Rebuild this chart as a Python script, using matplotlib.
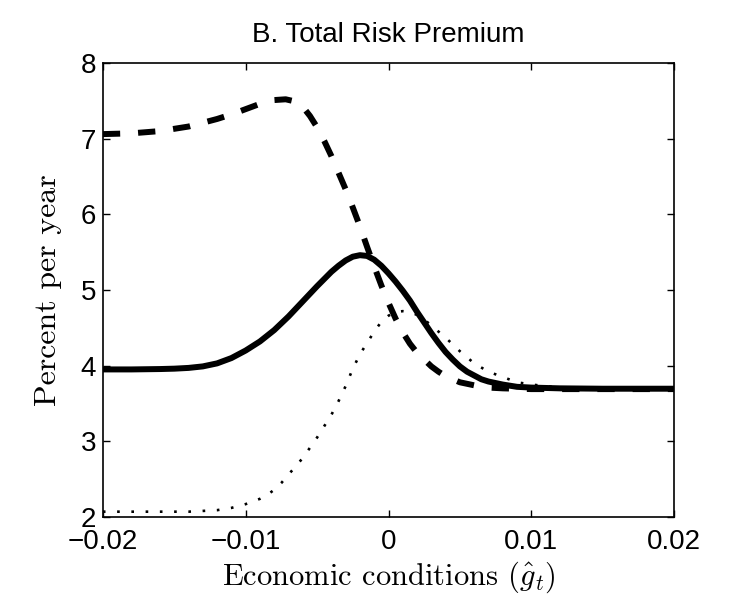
import matplotlib
matplotlib.use("Agg")
import matplotlib.pyplot as plt

# values
solid_x = [-0.020, -0.018, -0.016, -0.015, -0.014, -0.013, -0.012, -0.011, -0.010,
           -0.009, -0.008, -0.007, -0.006, -0.005, -0.004, -0.0035, -0.003, -0.0025,
           -0.002, -0.0015, -0.001, -0.0005, 0.000, 0.0005, 0.001, 0.0015, 0.002,
           0.0025, 0.003, 0.0035, 0.004, 0.0045, 0.005, 0.0055, 0.006, 0.0065, 0.007,
           0.008, 0.009, 0.010, 0.012, 0.015, 0.020]
solid_y = [3.95, 3.95, 3.955, 3.96, 3.97, 3.99, 4.03, 4.10, 4.20,
           4.32, 4.47, 4.65, 4.85, 5.05, 5.24, 5.32, 5.39, 5.44,
           5.46, 5.45, 5.40, 5.32, 5.22, 5.11, 4.99, 4.86, 4.71,
           4.57, 4.43, 4.30, 4.18, 4.08, 3.99, 3.92, 3.87, 3.82, 3.79,
           3.75, 3.72, 3.71, 3.70, 3.695, 3.695]

dashed_x = [-0.020, -0.019, -0.018, -0.017, -0.016, -0.015, -0.014, -0.013, -0.012,
            -0.011, -0.010, -0.009, -0.008, -0.0072, -0.0065, -0.006, -0.0055,
            -0.005, -0.0045, -0.004, -0.0035, -0.003, -0.0025, -0.002, -0.0015,
            -0.001, -0.0005, 0.000, 0.0005, 0.001, 0.0015, 0.002, 0.0025, 0.003,
            0.0035, 0.004, 0.005, 0.006, 0.007, 0.008, 0.010, 0.020]
dashed_y = [7.06, 7.065, 7.07, 7.085, 7.10, 7.13, 7.16, 7.21, 7.26,
            7.32, 7.39, 7.46, 7.51, 7.52, 7.49, 7.42, 7.30,
            7.15, 6.97, 6.77, 6.55, 6.33, 6.09, 5.84, 5.57,
            5.31, 5.06, 4.83, 4.62, 4.44, 4.29, 4.17, 4.08, 3.99,
            3.92, 3.86, 3.78, 3.74, 3.71, 3.70, 3.69, 3.69]

dotted_x = [-0.020, -0.014, -0.012, -0.011, -0.010, -0.009, -0.0085, -0.008, -0.0075,
            -0.007, -0.006, -0.005, -0.004, -0.0035, -0.003, -0.0025, -0.002,
            -0.0015, -0.001, -0.0005, 0.000, 0.0005, 0.001, 0.0015, 0.002, 0.0025,
            0.003, 0.0035, 0.004, 0.005, 0.006, 0.007, 0.008, 0.009, 0.010, 0.012,
            0.015, 0.020]
dotted_y = [2.07, 2.07, 2.09, 2.12, 2.17, 2.24, 2.29, 2.36, 2.45,
            2.56, 2.78, 3.05, 3.35, 3.53, 3.73, 3.96, 4.15,
            4.30, 4.45, 4.58, 4.66, 4.71, 4.72, 4.71, 4.67, 4.61,
            4.53, 4.45, 4.37, 4.19, 4.03, 3.92, 3.85, 3.78, 3.75, 3.71,
            3.70, 3.70]

x_ticks = [-0.02, -0.01, 0, 0.01, 0.02]
x_labels = ["\u22120.02", "\u22120.01", "0", "0.01", "0.02"]
y_ticks = [2, 3, 4, 5, 6, 7, 8]

plt.rcParams["font.family"] = ["Liberation Sans", "DejaVu Sans"]
plt.rcParams["mathtext.fontset"] = "cm"

fig = plt.figure(figsize=(7.4, 6.05), dpi=100)
ax = fig.add_axes([0.139, 0.1455, 0.772, 0.7504])

ax.plot(solid_x, solid_y, color="black", lw=4.3, solid_capstyle="butt",
        solid_joinstyle="round", zorder=3)
ax.plot(dashed_x, dashed_y, color="black", lw=4.3, linestyle=(0, (2.9, 3.0)),
        dash_capstyle="butt", zorder=4)
ax.plot(dotted_x, dotted_y, color="black", lw=1.9, linestyle=(0, (1.0, 4.4)),
        dash_capstyle="butt", zorder=5)

ax.set_xlim(-0.02, 0.02)
ax.set_ylim(2, 8)
ax.set_xticks(x_ticks, x_labels)
ax.set_yticks(y_ticks)
ax.tick_params(direction="in", length=5, width=1.0, labelsize=20,
               top=True, right=True)
ax.tick_params(axis="x", pad=9)
ax.tick_params(axis="y", pad=5)
for s in ax.spines.values():
    s.set_linewidth(1.2)

ax.set_title("B. Total Risk Premium", fontsize=20, pad=15)
ax.set_xlabel(r"Economic conditions ($\hat{g}_t$)", fontsize=22,
              family="cmr10", labelpad=3)
ax.set_ylabel("Percent per year", fontsize=23, family="cmr10", labelpad=13)

fig.savefig("out.png", dpi=100)
